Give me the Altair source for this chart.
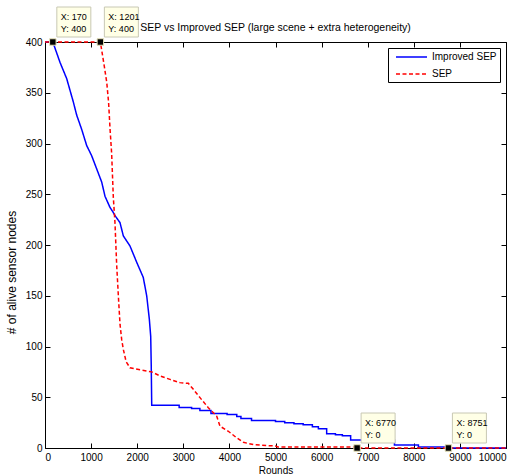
import altair as alt
import pandas as pd

# ---- data ----
imp_rounds = [0, 170, 325, 470, 614, 687, 795, 904, 1012, 1121, 1230, 1302, 1410, 1482,
              1518, 1627, 1699, 1844, 1989, 2132, 2206, 2263, 2293, 2305, 2315,
              2910, 2910, 3180, 3180, 3360, 3360, 3600, 3600, 3950, 3950, 4160, 4160,
              4250, 4250, 4480, 4480, 5000, 5000, 5200, 5200, 5400, 5400, 5600, 5600,
              5800, 5800, 5930, 5930, 6110, 6110, 6300, 6300, 6450, 6450, 6630, 6630,
              7580, 7580, 8100, 8100, 8751, 8751, 10000]
imp_alive = [400, 400, 380, 364, 341, 328, 314, 298, 288, 275, 262, 248, 237, 232,
             229, 222, 209, 199, 183, 168, 150, 127, 110, 80, 42,
             42, 40, 40, 39, 39, 37, 37, 34, 34, 33, 33, 31,
             31, 29, 29, 27, 27, 26, 26, 25, 25, 24, 24, 23,
             23, 21, 21, 19, 19, 14, 14, 13, 13, 12, 12, 8,
             8, 3, 3, 1, 1, 0, 0]

sep_rounds = [0, 1201, 1230, 1290, 1340, 1380, 1410, 1446, 1482, 1518, 1555, 1591, 1627,
              1663, 1700, 1760, 1844, 2061, 2314, 2495, 2711, 2928, 3109, 3218, 3362,
              3543, 3724, 3796, 3977, 4158, 4302, 4518, 4808, 5000, 5050, 6770, 6770, 10000]
sep_alive = [400, 400, 392, 375, 360, 340, 315, 290, 247, 222, 180, 150, 122,
             107, 97, 85, 79, 77, 75, 71, 67.6, 64.4, 63.7, 57.8, 49.6,
             39.7, 31.4, 21.5, 16.5, 10, 5.6, 3.4, 2.4, 2, 1, 1, 0, 0]

series_names = ["Improved SEP", "SEP"]
series_colors = ["#0000ff", "#ff0000"]

tip_x = [170, 1201, 6770, 8751]
tip_y = [400, 400, 0, 0]

x_ticks = list(range(0, 10001, 1000))
y_ticks = list(range(0, 401, 50))

FONT = "Liberation Sans"

lines_df = pd.concat([
    pd.DataFrame({"Rounds": imp_rounds, "alive": imp_alive, "series": series_names[0],
                  "order": range(len(imp_rounds))}),
    pd.DataFrame({"Rounds": sep_rounds, "alive": sep_alive, "series": series_names[1],
                  "order": range(len(sep_rounds))}),
])
tips_df = pd.DataFrame({"tx": tip_x, "ty": tip_y})

xscale = alt.Scale(domain=[0, 10000], nice=False, zero=False)
yscale = alt.Scale(domain=[0, 400], nice=False)

x_axis = alt.Axis(orient="bottom", values=x_ticks, format="d", grid=False, domain=False,
                  offset=-5, tickSize=5, tickColor="black", labelPadding=4,
                  labelFontSize=10, labelFont=FONT, labelColor="black",
                  title="Rounds", titleFont=FONT, titleFontSize=10, titleFontWeight="normal",
                  titleColor="black", titlePadding=3)
y_axis = alt.Axis(orient="left", values=y_ticks, grid=False, domain=False,
                  offset=-5, tickSize=5, tickColor="black", labelPadding=3,
                  labelFontSize=10, labelFont=FONT, labelColor="black",
                  title="# of alive sensor nodes", titleFont=FONT, titleFontSize=12,
                  titleFontWeight="normal", titleColor="black", titlePadding=7,
                  titleY=230)

legend = alt.Legend(title=None, orient="none", legendX=343, legendY=6,
                    symbolType="M-1,0H5.2", symbolSize=100, symbolStrokeWidth=1.5,
                    symbolOffset=4, labelOffset=25,
                    labelFontSize=10, labelFont=FONT, labelColor="black",
                    fillColor="white", strokeColor="black",
                    padding=3, rowPadding=6)

lines = alt.Chart(lines_df).mark_line(strokeWidth=1.5).encode(
    x=alt.X("Rounds:Q", scale=xscale, axis=x_axis),
    y=alt.Y("alive:Q", scale=yscale, axis=y_axis),
    color=alt.Color("series:N", scale=alt.Scale(domain=series_names, range=series_colors),
                    legend=legend),
    strokeDash=alt.StrokeDash("series:N",
                              scale=alt.Scale(domain=series_names, range=[[1, 0], [4, 2.5]]),
                              legend=legend),
    order="order:Q",
)

top_axis = alt.Axis(orient="top", values=x_ticks, labels=False, title=None, grid=False,
                    domain=False, offset=-5, tickSize=5, tickColor="black")
right_axis = alt.Axis(orient="right", values=y_ticks, labels=False, title=None, grid=False,
                      domain=False, offset=-5, tickSize=5, tickColor="black")

boxes = alt.Chart(tips_df).mark_rect(
    fill="#ffffe6", stroke="#c8c8b4", strokeWidth=1,
    xOffset=4, x2Offset=38, yOffset=-35, y2Offset=-5,
).encode(
    x=alt.X("tx:Q", scale=xscale, axis=top_axis),
    x2="tx:Q",
    y=alt.Y("ty:Q", scale=yscale, axis=right_axis),
    y2="ty:Q",
)

markers = alt.Chart(tips_df).mark_square(
    size=42, fill="black", stroke="#e6e2b8", strokeWidth=1, opacity=1
).encode(x=alt.X("tx:Q", scale=xscale, axis=None),
         y=alt.Y("ty:Q", scale=yscale, axis=None))

text_x = alt.Chart(tips_df).transform_calculate(
    lab="'X: ' + datum.tx"
).mark_text(align="left", baseline="alphabetic", dx=8, dy=-22, fontSize=9,
            font=FONT, color="black").encode(
    x=alt.X("tx:Q", scale=xscale, axis=None),
    y=alt.Y("ty:Q", scale=yscale, axis=None), text="lab:N")

text_y = alt.Chart(tips_df).transform_calculate(
    lab="'Y: ' + datum.ty"
).mark_text(align="left", baseline="alphabetic", dx=8, dy=-10, fontSize=9,
            font=FONT, color="black").encode(
    x=alt.X("tx:Q", scale=xscale, axis=None),
    y=alt.Y("ty:Q", scale=yscale, axis=None), text="lab:N")

chart = alt.layer(lines, boxes, markers, text_x, text_y).resolve_axis(
    x="independent", y="independent"
).properties(
    width=461, height=406,
    title=alt.TitleParams("SEP vs Improved SEP (large scene + extra heterogeneity)",
                          font=FONT, fontSize=10.5, fontWeight="normal", color="black",
                          anchor="middle", offset=4, dy=31),
    autosize=alt.AutoSizeParams(type="none"),
    padding={"left": 45, "top": 42, "right": 14, "bottom": 26},
    background="white",
).configure_view(stroke="black", strokeWidth=1)

chart.save("out.html", embed_options={"renderer": "svg", "actions": False})
